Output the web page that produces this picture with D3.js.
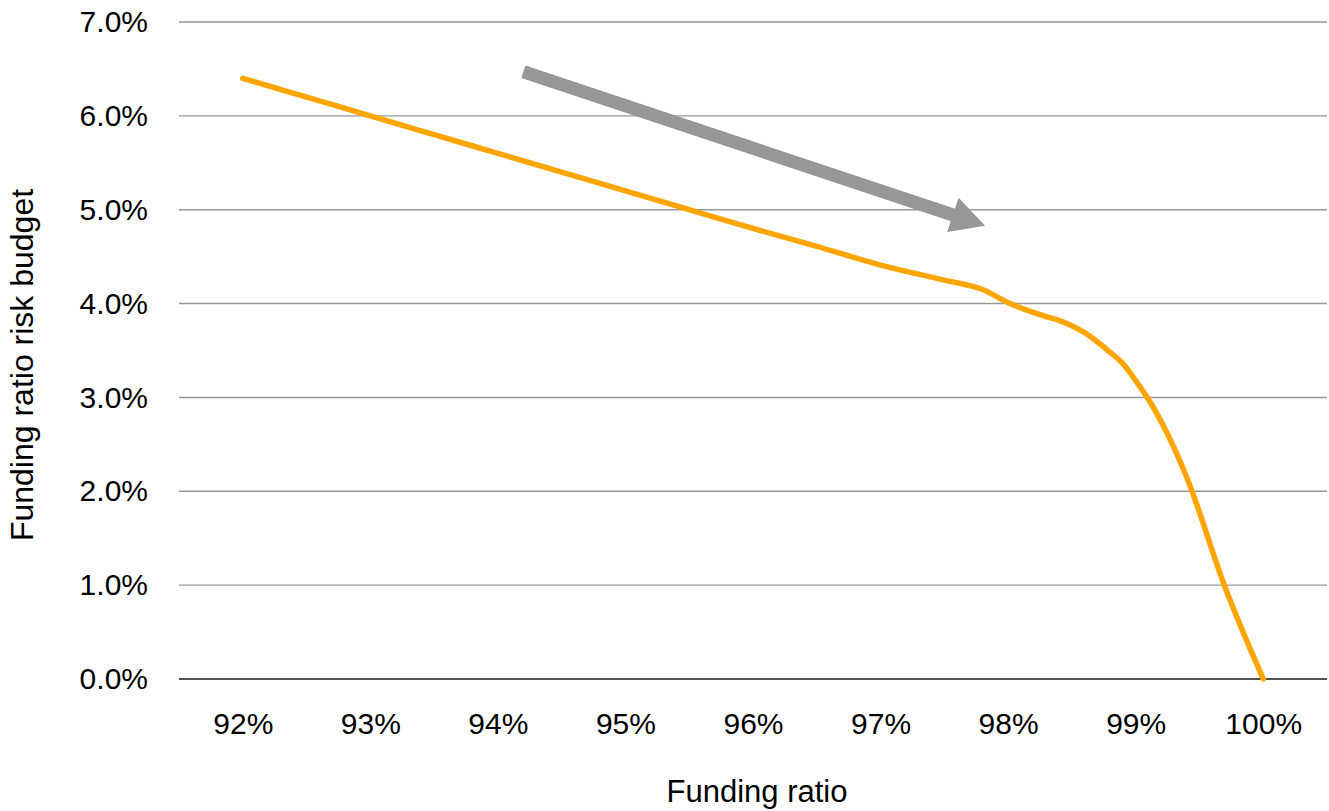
<!DOCTYPE html>
<html>
<head>
<meta charset="utf-8">
<script src="https://cdn.jsdelivr.net/npm/d3@7/dist/d3.min.js"></script>
<style>
  html, body { margin: 0; padding: 0; background: #fff; }
  svg { display: block; font-family: "Liberation Sans", Arial, sans-serif; }
</style>
</head>
<body>
<svg id="chart" width="1329" height="811"></svg>
<script>
// Funding ratio (%) and the corresponding risk budget (%)
const fundingRatio = [92.0, 92.5, 93.0, 93.5, 94.0, 94.5, 95.0, 95.5, 96.0, 96.5, 97.0, 97.5, 97.8, 98.0, 98.3, 98.4, 98.6, 98.8, 98.9, 99.0, 99.1, 99.4, 99.7, 100.0];
const riskBudget   = [6.40, 6.20, 6.00, 5.80, 5.60, 5.40, 5.20, 5.00, 4.80, 4.61, 4.41, 4.25, 4.15, 4.01, 3.86, 3.82, 3.69, 3.48, 3.36, 3.18, 2.98, 2.15, 0.98, 0.00];

// Axis ticks
const xTicks = [92, 93, 94, 95, 96, 97, 98, 99, 100];
const yTicks = [0, 1, 2, 3, 4, 5, 6, 7];

// Trend arrow (start and tip in data units)
const arrowFrom = [94.20, 6.47];
const arrowTo   = [97.82, 4.83];

const svg = d3.select("#chart");
const margin = { left: 179, right: 2, top: 22, bottom: 132 };
const W = 1329, H = 811;
const FONT = "'Liberation Sans', Arial, sans-serif";

// category-style spacing: half a step of padding on each side
const x = d3.scaleLinear().domain([91.5, 100.5]).range([margin.left, W - margin.right]);
const y = d3.scaleLinear().domain([0, 7]).range([H - margin.bottom, margin.top]);

// Horizontal gridlines
svg.append("g")
  .selectAll("line")
  .data(yTicks.filter(d => d > 0))
  .join("line")
  .attr("x1", x.range()[0]).attr("x2", x.range()[1])
  .attr("y1", d => y(d)).attr("y2", d => y(d))
  .attr("stroke", "#989898").attr("stroke-width", 1.4);

// Zero baseline
svg.append("line")
  .attr("x1", x.range()[0]).attr("x2", x.range()[1])
  .attr("y1", y(0)).attr("y2", y(0))
  .attr("stroke", "#1a1a1a").attr("stroke-width", 1.6);

// Y axis labels
const yAxis = d3.axisLeft(y).tickValues(yTicks)
  .tickFormat(d => d3.format(".1f")(d) + "%").tickSize(0).tickPadding(0);
svg.append("g")
  .attr("transform", `translate(${148},0)`)
  .call(yAxis)
  .call(g => g.select(".domain").remove())
  .call(g => g.selectAll("text").attr("font-size", 30).attr("fill", "#000")
    .attr("font-family", FONT));

// X axis labels
const xAxis = d3.axisBottom(x).tickValues(xTicks)
  .tickFormat(d => d + "%").tickSize(0).tickPadding(0);
svg.append("g")
  .attr("transform", `translate(0,${713})`)
  .call(xAxis)
  .call(g => g.select(".domain").remove())
  .call(g => g.selectAll("text").attr("font-size", 30).attr("fill", "#000")
    .attr("font-family", FONT));

// Axis titles
svg.append("text")
  .attr("x", 757).attr("y", 802)
  .attr("text-anchor", "middle")
  .attr("font-family", FONT)
  .attr("font-size", 31).attr("fill", "#000")
  .text("Funding ratio");

svg.append("text")
  .attr("transform", `translate(${33},${365}) rotate(-90)`)
  .attr("text-anchor", "middle")
  .attr("font-family", FONT)
  .attr("font-size", 32).attr("fill", "#000")
  .text("Funding ratio risk budget");

// Risk budget curve
const pts = fundingRatio.map((f, i) => [f, riskBudget[i]]);
svg.append("path")
  .datum(pts)
  .attr("d", d3.line().x(d => x(d[0])).y(d => y(d[1])).curve(d3.curveMonotoneX))
  .attr("fill", "none")
  .attr("stroke", "#FFA500")
  .attr("stroke-width", 5.5)
  .attr("stroke-linecap", "round")
  .attr("stroke-linejoin", "round");

// Trend arrow
const ax0 = x(arrowFrom[0]), ay0 = y(arrowFrom[1]);
const ax1 = x(arrowTo[0]),   ay1 = y(arrowTo[1]);
const len = Math.hypot(ax1 - ax0, ay1 - ay0);
const ang = Math.atan2(ay1 - ay0, ax1 - ax0) * 180 / Math.PI;
const headLen = 34, headHalf = 18, shaft = 13;
const arrow = svg.append("g")
  .attr("transform", `translate(${ax0},${ay0}) rotate(${ang})`);
arrow.append("rect")
  .attr("x", 0).attr("y", -shaft / 2)
  .attr("width", len - headLen + 1).attr("height", shaft)
  .attr("fill", "#979797");
arrow.append("path")
  .attr("d", `M${len - headLen},${-headHalf} L${len},0 L${len - headLen},${headHalf} Z`)
  .attr("fill", "#979797");
</script>
</body>
</html>
